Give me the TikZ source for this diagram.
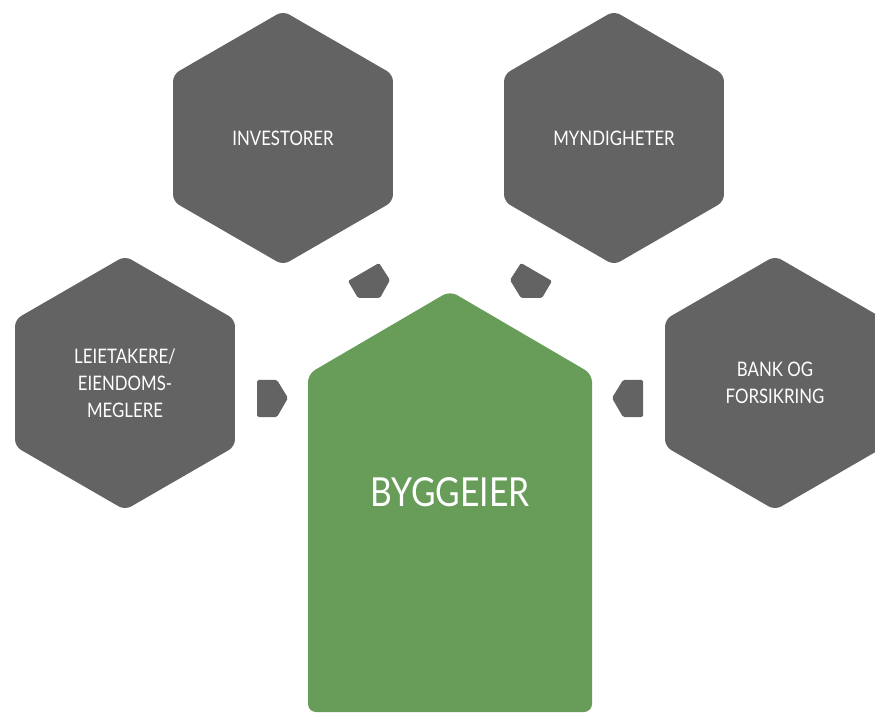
\documentclass[tikz,border=0pt]{standalone}
\usepackage{fontspec}
\setmainfont[FakeStretch=0.84]{Lato}
\definecolor{hexgray}{RGB}{99,99,99}
\definecolor{ownergreen}{RGB}{103,157,88}
\tikzset{
  hexshape/.style={fill=hexgray, rounded corners=7pt},
  chip/.style={fill=hexgray, rounded corners=1.5pt},
  lbl/.style={text=white, font=\fontsize{20}{27}\selectfont, align=center, inner sep=0pt},
  biglbl/.style={text=white, font=\fontsize{40}{44}\selectfont, align=center, inner sep=0pt},
}
\newcommand{\hexat}[1]{\fill[hexshape] (#1) ++(90:127) -- ++(210:127) -- ++(270:127) -- ++(330:127) -- ++(30:127) -- ++(90:127) -- cycle;}
\begin{document}
\begin{tikzpicture}[x=1pt,y=1pt]
\useasboundingbox (0,0) rectangle (875,713);
\coordinate (cinv) at (283,575);
\coordinate (cmyn) at (614,575);
\coordinate (clei) at (125,330);
\coordinate (cbank) at (775,330);
\hexat{cinv}
\hexat{cmyn}
\hexat{clei}
\hexat{cbank}
\fill[fill=ownergreen, rounded corners=8pt] (308,1) -- (308,339) -- (450,422) -- (592,339) -- (592,1) -- cycle;
% chips
\fill[chip] (379,450) -- (348,432) -- (358,415) -- (380,415) -- (390,433) -- cycle;
\fill[chip] (521,450) -- (510,433) -- (521,415) -- (542,415) -- (552,432) -- cycle;
\fill[chip] (257,333) -- (277,333) -- (288,315) -- (277,296) -- (257,296) -- cycle;
\fill[chip] (643,333) -- (623,333) -- (612,315) -- (623,296) -- (643,296) -- cycle;
% labels
\node[lbl] (inv) at (cinv) {INVESTORER};
\node[lbl] (myn) at (cmyn) {MYNDIGHETER};
\node[lbl] (lei) at (clei) {LEIETAKERE/\\EIENDOMS-\\MEGLERE};
\node[lbl] (bank) at (cbank) {BANK OG\\FORSIKRING};
\node[biglbl] (owner) at (450,221) {BYGGEIER};
\end{tikzpicture}
\end{document}
